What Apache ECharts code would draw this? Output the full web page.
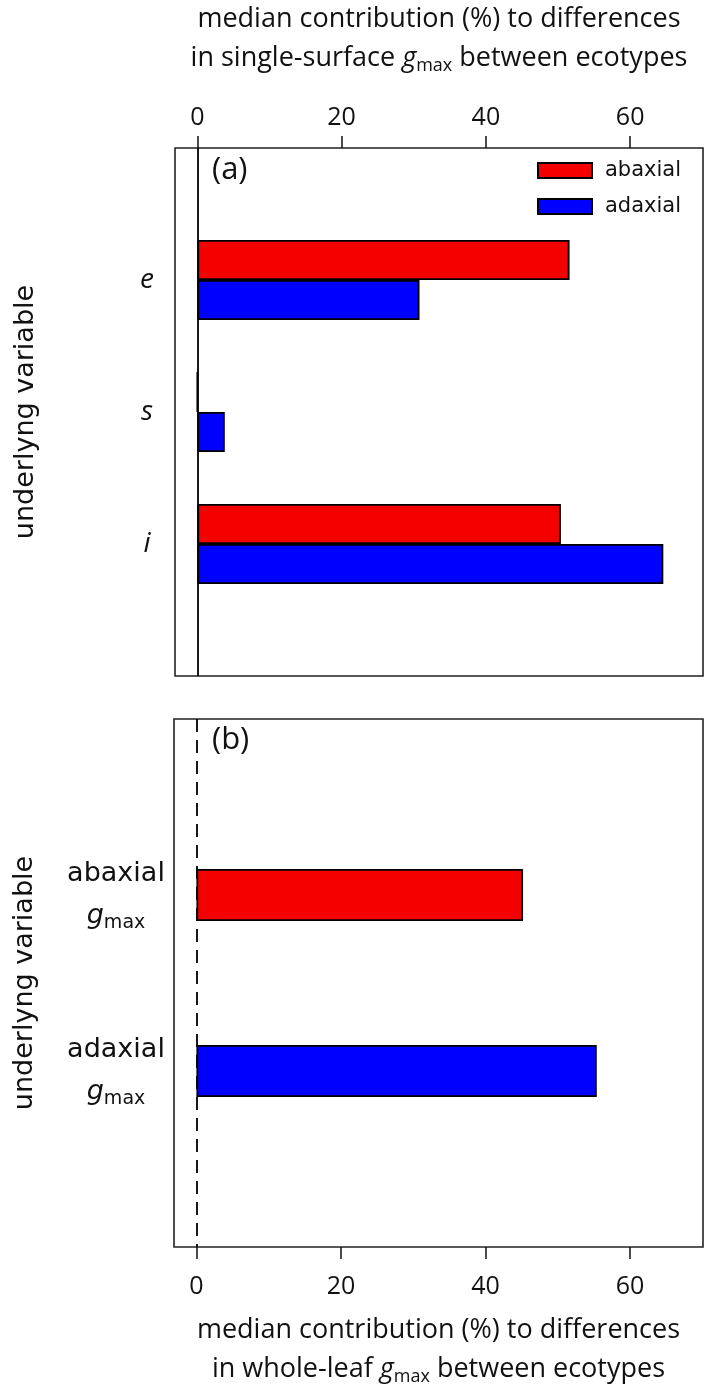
<!DOCTYPE html>
<html><head><meta charset="utf-8">
<script src="https://cdn.jsdelivr.net/npm/echarts@6/dist/echarts.min.js"></script>
<style>html,body{margin:0;padding:0;background:#fff}#c{width:707px;height:1393px}</style>
</head><body><div id="c"></div>
<script>
// ---- data ----
const variablesA = ['e', 's', 'i'];
const abaxialA = [51.6, 0, 50.4];
const adaxialA = [30.8, 3.8, 64.6];
const variablesB = ['abaxial', 'adaxial'];
const wholeLeafB = [45.2, 55.4];
const xTicks = [0, 20, 40, 60];
const xMin = -3.1, xMax = 70.1;

const RED = '#f50000', BLUE = '#0000ff';
const sansC = '"Open Sans", "Noto Sans", sans-serif';
const sansA = '"DejaVu Sans", sans-serif';

const pad = arr => [null].concat(arr, [null]);
const catA = [''].concat(variablesA, ['']);
const catB = [''].concat(variablesB, ['']);

const chart = echarts.init(document.getElementById('c'), null, {renderer: 'canvas'});

const TF = 27, TL = 39;
const xAxisCommon = {
  type: 'value', min: xMin, max: xMax,
  axisLine: {show: false},
  axisTick: {show: true, length: 12, inside: false, customValues: xTicks, lineStyle: {color: '#111', width: 1.5}},
  axisLabel: {customValues: xTicks, fontSize: 25, fontFamily: sansC, color: '#111'},
  splitLine: {show: false},
  nameLocation: 'middle',
  nameTextStyle: {
    fontSize: TF, fontFamily: sansC, color: '#111', lineHeight: TL, align: 'center',
    rich: {
      t: {fontSize: TF, fontFamily: sansC, color: '#111', lineHeight: TL},
      g: {fontSize: TF, fontFamily: sansC, fontStyle: 'italic', color: '#111', lineHeight: TL},
      s: {fontSize: 18, fontFamily: sansC, color: '#111', lineHeight: TL, padding: [15, 0, 0, 0]}
    }
  }
};

const option = {
  animation: false,
  backgroundColor: '#fff',
  grid: [
    {left: 175, top: 148, width: 528, height: 528, show: true, borderColor: '#222', borderWidth: 1.6, backgroundColor: 'transparent', containLabel: false, outerBoundsMode: 'none'},
    {left: 174, top: 719, width: 529, height: 528, show: true, borderColor: '#222', borderWidth: 1.6, backgroundColor: 'transparent', containLabel: false, outerBoundsMode: 'none'}
  ],
  legend: {
    data: ['abaxial', 'adaxial'], orient: 'vertical', left: 537, top: 160, padding: 0,
    itemWidth: 54, itemHeight: 15, itemGap: 15, icon: 'rect',
    textStyle: {fontSize: 21, fontFamily: sansA, color: '#111', padding: [0, 0, 0, 8]}
  },
  graphic: [
    {type: 'text', left: 212, top: 155, style: {text: '(a)', fontSize: 31, fontFamily: sansC, fill: '#111'}},
    {type: 'text', left: 212, top: 725, style: {text: '(b)', fontSize: 31, fontFamily: sansC, fill: '#111'}}
  ],
  xAxis: [
    Object.assign({}, xAxisCommon, {
      gridIndex: 0, position: 'top', nameGap: 70,
      axisLabel: Object.assign({}, xAxisCommon.axisLabel, {margin: 18}),
      name: '{t|median contribution (%) to differences}\n{t|in single-surface }{g|g}{s|max}{t| between ecotypes}'
    }),
    Object.assign({}, xAxisCommon, {
      gridIndex: 1, position: 'bottom', nameGap: 64,
      axisLabel: Object.assign({}, xAxisCommon.axisLabel, {margin: 27}),
      name: '{t|median contribution (%) to differences}\n{t|in whole-leaf }{g|g}{s|max}{t| between ecotypes}'
    })
  ],
  yAxis: [
    {
      gridIndex: 0, type: 'category', data: catA, boundaryGap: false, inverse: true,
      axisLine: {show: false}, axisTick: {show: false}, splitLine: {show: false},
      axisLabel: {fontSize: 28, fontStyle: 'italic', fontFamily: sansC, color: '#111', align: 'center', margin: 28, interval: 0},
      name: 'underlyng variable', nameLocation: 'middle', nameRotate: 90, nameGap: 136,
      nameTextStyle: {fontSize: 27, fontFamily: sansA, color: '#111'}
    },
    {
      gridIndex: 1, type: 'category', data: catB, boundaryGap: false, inverse: true,
      axisLine: {show: false}, axisTick: {show: false}, splitLine: {show: false},
      axisLabel: {
        interval: 0, align: 'center', margin: 58, color: '#111',
        formatter: v => v ? '{n|' + v + '}\n{g|g}{s|max}' : '',
        rich: {
          n: {fontSize: 27, fontFamily: sansA, color: '#111', lineHeight: 42, align: 'center'},
          g: {fontSize: 27, fontFamily: sansA, fontStyle: 'italic', color: '#111', lineHeight: 42},
          s: {fontSize: 19, fontFamily: sansA, color: '#111', lineHeight: 42, padding: [14, 0, 0, 0]}
        }
      },
      name: 'underlyng variable', nameLocation: 'middle', nameRotate: 90, nameGap: 136,
      nameTextStyle: {fontSize: 27, fontFamily: sansA, color: '#111'}
    }
  ],
  series: [
    {
      type: 'bar', name: 'abaxial', xAxisIndex: 0, yAxisIndex: 0, data: pad(abaxialA),
      barWidth: 40, barGap: '0%',
      itemStyle: {color: RED, borderColor: '#000', borderWidth: 1.8},
      markLine: {silent: true, symbol: 'none', label: {show: false}, lineStyle: {color: '#000', width: 1.8, type: 'solid'}, data: [{xAxis: 0}]}
    },
    {
      type: 'bar', name: 'adaxial', xAxisIndex: 0, yAxisIndex: 0, data: pad(adaxialA),
      barWidth: 40, barGap: '0%',
      itemStyle: {color: BLUE, borderColor: '#000', borderWidth: 1.8}
    },
    {
      type: 'bar', name: 'whole-leaf', xAxisIndex: 1, yAxisIndex: 1,
      data: pad(wholeLeafB).map((v, i) => v === null ? null : {value: v, itemStyle: {color: i === 1 ? RED : BLUE}}),
      barWidth: 52,
      itemStyle: {borderColor: '#000', borderWidth: 1.8},
      markLine: {silent: true, symbol: 'none', label: {show: false}, lineStyle: {color: '#000', width: 1.8, type: [13, 8]}, data: [{xAxis: 0}]}
    }
  ]
};
chart.setOption(option);
</script>
</body></html>
